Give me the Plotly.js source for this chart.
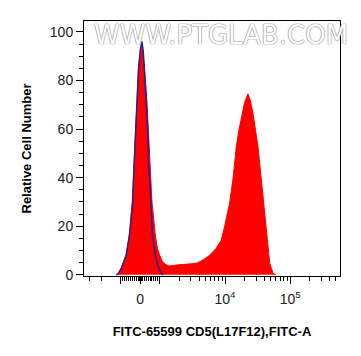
<!DOCTYPE html>
<html>
<head>
<meta charset="utf-8">
<script src="https://cdn.plot.ly/plotly-3.0.1.min.js"></script>
<style>html,body{margin:0;padding:0;background:#fff;}#chart{width:361px;height:356px;}</style>
</head>
<body>
<div id="chart"></div>
<script>
// x values are in biexponential display units (decades; 0 = 0, 10^3 = 0.3, 10^4 = 1.3, 10^5 = 2.3)
var sampleX = [-0.369,-0.338,-0.292,-0.246,-0.215,-0.165,-0.118,-0.097,-0.077,-0.057,-0.026,0.000,0.023,0.046,0.066,0.103,0.128,0.154,0.180,0.231,0.262,0.297,0.338,0.385,0.446,0.549,0.703,0.857,0.958,1.062,1.165,1.242,1.292,1.338,1.369,1.420,1.472,1.508,1.549,1.600,1.651,1.685,1.728,1.769,1.805,1.857,1.908,1.943,1.985,2.035,2.077];
var sampleY = [0,0.5,2.6,5.5,8.1,16.4,30,43.8,57.6,71.3,85,91,94,91,85,71.3,57.6,43.8,30,16.4,11,8.1,5.5,4.3,3.6,4,4.5,4.7,6,8,10.9,14.3,19.8,25,29.4,39,52.7,59,65,71,74.5,72,66.5,60,52.7,39,25.3,14.3,4.7,0.6,0];

var controlX = [-0.369,-0.338,-0.292,-0.215,-0.165,-0.118,-0.097,-0.077,-0.057,-0.026,0.003,0.026,0.046,0.066,0.085,0.103,0.118,0.134,0.158,0.189,0.231,0.262,0.297,0.323,0.354];
var controlY = [0,0.5,2.6,8.1,16.4,30,43.8,57.6,71.3,85,93,96,92,85,75,65,57.6,43.8,30,16.4,8.1,4.5,2.0,0.5,0];

var majorTickValues = [-1000, 0, 1000, 10000, 100000];
var majorTickLabels = ["", "0", "", "10<sup>4</sup>", "10<sup>5</sup>"];
var minorTickValues = [-3000,-2000,
  -900,-800,-700,-600,-500,-400,-300,-200,-100,
  -90,-80,-70,-60,-50,-40,-30,-20,-10,10,20,30,40,50,60,70,80,90,
  100,200,300,400,500,600,700,800,900,
  2000,3000,4000,5000,6000,7000,8000,9000,
  20000,30000,40000,50000,60000,70000,80000,90000,
  200000,300000,400000,500000];

function biex(v){
  var a = Math.abs(v), s = v < 0 ? -1 : 1;
  if (a <= 1000) return 0.3 * v / 1000;
  return s * (0.3 + Math.log10(a / 1000));
}

var traces = [
  {x: sampleX, y: sampleY, type: 'scatter', mode: 'lines', fill: 'tozeroy',
   fillcolor: '#ff0000', line: {color: '#ff0000', width: 1}, hoverinfo: 'skip'},
  {x: controlX, y: controlY, type: 'scatter', mode: 'lines',
   line: {color: '#2a1f8f', width: 1.5}, hoverinfo: 'skip'}
];

var layout = {
  width: 361, height: 356,
  margin: {l: 84, r: 21, t: 21, b: 80},
  paper_bgcolor: '#ffffff', plot_bgcolor: '#ffffff',
  showlegend: false,
  font: {family: 'Liberation Sans, Arial, sans-serif', color: '#222'},
  xaxis: {
    range: [-0.862, 3.062], showgrid: false, zeroline: false,
    showline: true, linecolor: '#000', linewidth: 1, mirror: true,
    tickmode: 'array', tickvals: majorTickValues.map(biex), ticktext: majorTickLabels,
    ticks: 'outside', ticklen: 7, tickcolor: '#000', tickwidth: 1,
    tickfont: {size: 14, color: '#222'}, ticklabelstandoff: 3,
    minor: {tickmode: 'array', tickvals: minorTickValues.map(biex), ticks: 'outside', ticklen: 4, tickcolor: '#000', tickwidth: 1, showgrid: false},
    title: {text: 'FITC-65599 CD5(L17F12),FITC-A', font: {size: 13, color: '#000', weight: 'bold'}, standoff: 21}
  },
  yaxis: {
    range: [-0.5, 104.5], showgrid: false, zeroline: false,
    showline: true, linecolor: '#000', linewidth: 1, mirror: true,
    tickmode: 'array', tickvals: [0,20,40,60,80,100],
    ticks: 'outside', ticklen: 7, tickcolor: '#000', tickwidth: 1,
    tickfont: {size: 14, color: '#222'},
    minor: {dtick: 5, ticks: 'outside', ticklen: 4, tickcolor: '#000', tickwidth: 1, showgrid: false},
    title: {text: 'Relative Cell Number', font: {size: 13, color: '#000', weight: 'bold'}, standoff: 15}
  },
  annotations: [{
    text: 'WWW.PTGLAB.COM', xref: 'paper', yref: 'paper', x: 1.04, y: 0.945,
    xanchor: 'right', yanchor: 'middle', showarrow: false,
    font: {family: 'DejaVu Sans, sans-serif', size: 26, color: '#ffffff', shadow: '0px 0px 1px #888, 0px 0px 1px #888, 0px 0px 1px #888'}
  }]
};

Plotly.newPlot('chart', traces, layout, {staticPlot: true, displayModeBar: false});
</script>
</body>
</html>
